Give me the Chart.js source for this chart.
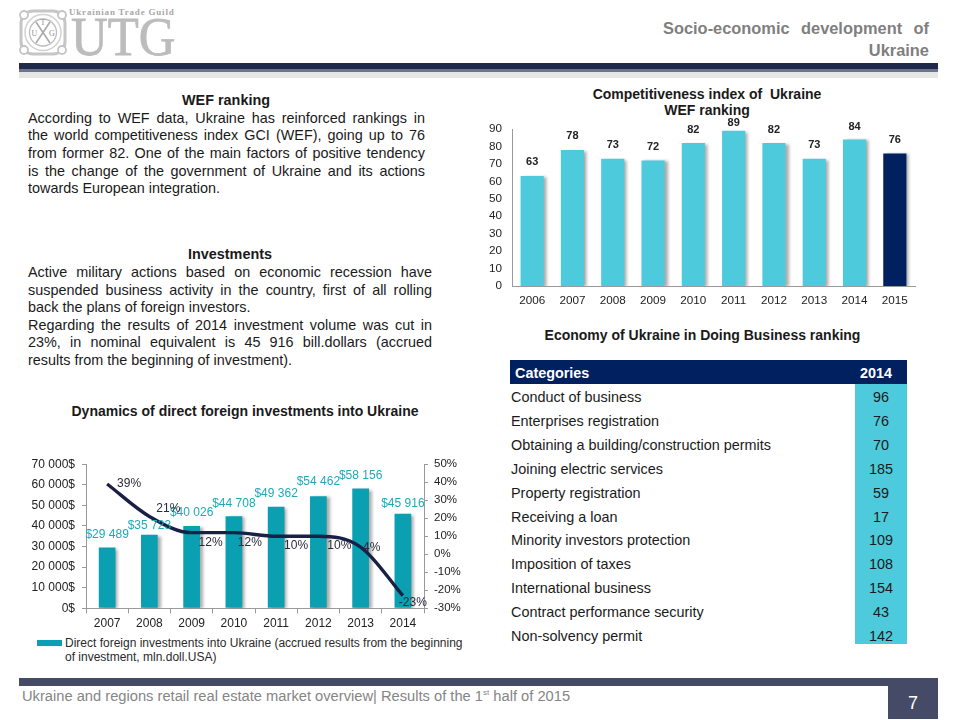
<!DOCTYPE html>
<html><head><meta charset="utf-8">
<style>
html,body{margin:0;padding:0;background:#fff;}
#page{position:relative;width:960px;height:720px;overflow:hidden;font-family:"Liberation Sans",Arial,sans-serif;color:#1a1a1a;}
.abs{position:absolute;}
.just{position:absolute;white-space:nowrap;text-align:justify;text-align-last:justify;font-size:14.4px;line-height:18px;height:18px;}
.ctr{position:absolute;text-align:center;font-weight:bold;white-space:nowrap;line-height:16px;height:16px;color:#1a1a1a;}
canvas{position:absolute;}
#tbl .r{position:absolute;left:0;font-size:14.4px;line-height:18px;white-space:nowrap;}
</style>
<script src="https://cdn.jsdelivr.net/npm/chart.js@4"></script>
</head><body>
<div id="page">
  <svg class="abs" style="left:18px;top:8px" width="52" height="50" viewBox="0 0 52 50">
    <rect x="3" y="3" width="44" height="43" rx="12" fill="none" stroke="#c6c6c6" stroke-width="3"/>
    <circle cx="6" cy="7" r="4" fill="#fff" stroke="#c4c4c4" stroke-width="1.8"/>
    <circle cx="44" cy="7" r="4" fill="#fff" stroke="#c4c4c4" stroke-width="1.8"/>
    <circle cx="6" cy="42" r="4" fill="#fff" stroke="#c4c4c4" stroke-width="1.8"/>
    <circle cx="44" cy="42" r="4" fill="#fff" stroke="#c4c4c4" stroke-width="1.8"/>
    <circle cx="25" cy="24.5" r="18" fill="none" stroke="#d2d2d2" stroke-width="1.5"/>
    <circle cx="25" cy="24.5" r="13.5" fill="none" stroke="#bdbdbd" stroke-width="1.3"/>
    <path d="M18 14 L32 35 M32 14 L18 35" stroke="#aaa" stroke-width="1.6"/>
    <text x="25" y="17" font-family="Liberation Serif" font-size="8" fill="#8f8f8f" text-anchor="middle">T</text>
    <text x="16.5" y="28" font-family="Liberation Serif" font-size="8" fill="#8f8f8f" text-anchor="middle">U</text>
    <text x="34" y="28" font-family="Liberation Serif" font-size="8" fill="#8f8f8f" text-anchor="middle">G</text>
  </svg>
  <div class="abs" style="left:69px;top:7px;font:bold 9px 'Liberation Serif',serif;color:#a8a8a8;letter-spacing:.8px;white-space:nowrap">Ukrainian Trade Guild</div>
  <div class="abs" style="left:71px;top:10px;font:54px/54px 'Liberation Serif',serif;color:#bcbcbc;-webkit-text-stroke:.8px #bcbcbc;white-space:nowrap;transform-origin:0 0;transform:scaleX(.94)">UTG</div>

  <div class="abs" style="left:663px;top:19px;width:266px;font:bold 16.4px/18px 'Liberation Sans',sans-serif;color:#7f7f7f;text-align:justify;text-align-last:justify;white-space:nowrap">Socio-economic development of</div>
  <div class="abs" style="left:663px;top:41px;width:266px;font:bold 16.4px/18px 'Liberation Sans',sans-serif;color:#7f7f7f;text-align:right;">Ukraine</div>

  <div class="abs" style="left:19px;top:63px;width:919px;height:6px;background:#1f2a4a"></div>
  <div class="abs" style="left:19px;top:69px;width:919px;height:3px;background:#6b7590"></div>
  <div class="abs" style="left:19px;top:72px;width:919px;height:6px;background:#e6e7e4"></div>

  <div class="ctr" style="left:126px;width:200px;top:92px;font-size:14.4px">WEF ranking</div>
  <div id="wef"></div>

  <div class="ctr" style="left:130px;width:200px;top:246px;font-size:14.4px">Investments</div>
  <div id="inv"></div>

  <div class="ctr" style="left:45px;width:400px;top:403px;font-size:14px">Dynamics of direct foreign investments into Ukraine</div>

  <div class="ctr" style="left:507px;width:400px;top:86px;font-size:14px">Competitiveness index of&nbsp; Ukraine</div>
  <div class="ctr" style="left:507px;width:400px;top:102px;font-size:14px">WEF ranking</div>
  <div class="ctr" style="left:502.5px;width:400px;top:327px;font-size:14px">Economy of Ukraine in Doing Business ranking</div>

  <canvas id="c1" class="abs" style="left:480px;top:112px;"></canvas>
  <canvas id="c2" class="abs" style="left:20px;top:450px;"></canvas>

  <div class="abs" style="left:37px;top:640px;width:25px;height:6px;background:#0aa0b2"></div>
  <div class="abs" style="left:65px;top:636px;font-size:12px;line-height:14px;color:#2a2a2a;white-space:nowrap">Direct foreign investments into Ukraine (accrued results from the beginning<br>of investment, mln.doll.USA)</div>

  <div id="tbl" class="abs" style="left:510px;top:360px;width:397px;height:284px">
    <div class="abs" style="left:0;top:0;width:397px;height:24px;background:#002060"></div>
    <div class="abs" style="left:345px;top:24px;width:52px;height:260px;background:#4dcbdc"></div>
    <div class="abs" style="left:5px;top:4px;font-size:14.4px;line-height:18px;font-weight:bold;color:#fff">Categories</div>
    <div class="abs" style="left:345px;width:42px;text-align:center;top:4px;font-size:14.4px;line-height:18px;font-weight:bold;color:#fff">2014</div>
  </div>

  <div class="abs" style="left:19px;top:678px;width:919px;height:8px;background:#454a66"></div>
  <div class="abs" style="left:888px;top:686px;width:50px;height:33px;background:#454a66;color:#fff;text-align:center;font-size:18px;line-height:34px">7</div>
  <div class="abs" style="left:22px;top:688px;font-size:14.7px;line-height:16px;color:#858585;white-space:nowrap">Ukraine and regions retail real estate market overview| Results of the 1<sup style="font-size:8px;line-height:0">st</sup> half of 2015</div>
</div>
<script>
// ---- Data ----
const wefYears = ['2006','2007','2008','2009','2010','2011','2012','2013','2014','2015'];
const wefValues = [63,78,73,72,82,89,82,73,84,76];
const fdiYears = ['2007','2008','2009','2010','2011','2012','2013','2014'];
const fdiValues = [29489,35723,40026,44708,49362,54462,58156,45916];
const fdiGrowth = [39,21,12,12,10,10,4,-23];
const doingCategories = ['Conduct of business','Enterprises registration','Obtaining a building/construction permits','Joining electric services','Property registration','Receiving a loan','Minority investors protection','Imposition of taxes','International business','Contract performance security','Non-solvency permit'];
const doingRanks = [96,76,70,185,59,17,109,108,154,43,142];
const wefLines = ['According to WEF data, Ukraine has reinforced rankings in','the world competitiveness index GCI (WEF), going up to 76','from former 82. One of the main factors of positive tendency','is the change of the government of Ukraine  and its actions','towards European integration.'];
const invLines = ['Active military actions based on economic recession have','suspended business activity in the country, first of all rolling','back the plans of foreign investors.','Regarding the results of 2014 investment volume was cut in','23%, in nominal equivalent is 45 916 bill.dollars (accrued','results  from the beginning of investment).'];

// ---- Text blocks ----
function block(id, lines, left, width, top, lh, lastIdx){
  const host=document.getElementById(id);
  lines.forEach((t,i)=>{
    const d=document.createElement('div');d.className='just';d.textContent=t;
    d.style.left=left+'px';d.style.top=(top+i*lh)+'px';
    if(lastIdx.includes(i)){d.style.textAlignLast='left';}
    d.style.width=width+'px';
    host.appendChild(d);
  });
}
block('wef',wefLines,28,397,108.5,17.7,[4]);
block('inv',invLines,28,404,263,17.6,[2,5]);

// ---- Table ----
const tbl=document.getElementById('tbl');
doingCategories.forEach((c,i)=>{
  const y=24+i*23.9+4;
  const a=document.createElement('div');a.className='r';a.textContent=c;a.style.left='1px';a.style.top=y+'px';tbl.appendChild(a);
  const b=document.createElement('div');b.className='r';b.textContent=doingRanks[i];b.style.left='345px';b.style.width='52px';b.style.textAlign='center';b.style.top=y+'px';tbl.appendChild(b);
});

// ---- Plugins ----
const shadowPlugin={id:'barShadow',
  beforeDatasetDraw(ch,a){ if(ch.data.datasets[a.index].type==='line')return;
    const c=ch.ctx;c.save();c.shadowColor='rgba(0,0,0,.33)';c.shadowBlur=3;c.shadowOffsetX=3;c.shadowOffsetY=1;},
  afterDatasetDraw(ch,a){ if(ch.data.datasets[a.index].type==='line')return; ch.ctx.restore();}
};
const labelPlugin={id:'pointLabels',
  afterDatasetsDraw(ch,args,opts){
    const c=ch.ctx;
    opts.sets.forEach(s=>{
      const meta=ch.getDatasetMeta(s.index);
      c.save();c.font=s.font;c.fillStyle=s.color;c.textAlign='center';c.textBaseline='middle';
      meta.data.forEach((el,i)=>{
        const off=s.offsets[i];
        c.fillText(s.format(ch.data.datasets[s.index].data[i]),el.x+off[0],el.y+off[1]);
      });
      c.restore();
    });
  }
};
Chart.defaults.font.family='"Liberation Sans",Arial,sans-serif';
Chart.defaults.animation=false;
Chart.defaults.responsive=false;
Chart.defaults.devicePixelRatio=1;

// ---- Chart 1 ----
const c1=document.getElementById('c1');c1.width=450;c1.height=201;
new Chart(c1,{type:'bar',plugins:[shadowPlugin,labelPlugin],
  data:{labels:wefYears,datasets:[{data:wefValues,
    backgroundColor:wefValues.map((v,i)=>i===wefValues.length-1?'#002060':'#4dcbdc'),
    categoryPercentage:1,barPercentage:.575}]},
  options:{layout:{padding:{left:0,right:15,top:14,bottom:0}},
    plugins:{legend:{display:false},tooltip:{enabled:false},
      pointLabels:{sets:[{index:0,font:'bold 11px "Liberation Sans"',color:'#222',
        format:v=>String(v),
        offsets:[[0,-14],[0,-13.5],[0,-13.5],[0,-13],[0,-13],[0,-8],[0,-13],[0,-13.5],[0,-13],[0,-13]]}]}},
    scales:{
      x:{afterFit(s){s.height=27},grid:{display:false,drawTicks:false},border:{color:'#9a9a9a'},ticks:{color:'#222',font:{size:11.7},padding:8,maxRotation:0,autoSkip:false}},
      y:{min:0,max:90,afterFit(s){s.width=32},grid:{display:false,drawTicks:false},border:{color:'#9a9a9a'},ticks:{stepSize:10,color:'#222',font:{size:11.7},padding:10}}
    }}});

// ---- Chart 2 ----
const c2=document.getElementById('c2');c2.width=450;c2.height=185;
new Chart(c2,{type:'bar',plugins:[shadowPlugin,labelPlugin],
  data:{labels:fdiYears,datasets:[
    {type:'line',data:fdiGrowth,yAxisID:'y1',borderColor:'#1a1f45',borderWidth:3.4,pointRadius:0,tension:.4,cubicInterpolationMode:'monotone',order:0,clip:false},
    {type:'bar',data:fdiValues,yAxisID:'y',backgroundColor:'#0aa0b2',categoryPercentage:1,barPercentage:.395,order:1}]},
  options:{layout:{padding:{left:0,right:0,top:14,bottom:0}},
    plugins:{legend:{display:false},tooltip:{enabled:false},
      pointLabels:{sets:[
        {index:1,font:'12px "Liberation Sans"',color:'#1fa9b8',
          format:v=>'$'+String(v).replace(/(\d+)(\d{3})$/,'$1 $2'),
          offsets:[[0,-13],[0,-9],[0,-13],[0,-13],[0,-13],[0,-14],[0,-13],[0,-10]]},
        {index:0,font:'12px "Liberation Sans"',color:'#2a2a3a',
          format:v=>v+'%',
          offsets:[[22,0],[19,-8],[19,10],[16,10],[20,9],[21,9],[11,1],[10,7]]}
      ]}},
    scales:{
      x:{afterFit(s){s.height=26.7},grid:{display:true,drawOnChartArea:false,drawTicks:true,tickLength:5,color:'#9a9a9a',offset:true},border:{color:'#9a9a9a'},ticks:{color:'#222',font:{size:12},padding:3.5,maxRotation:0,autoSkip:false}},
      y:{min:0,max:70000,position:'left',afterFit(s){s.width=66},grid:{drawOnChartArea:false,tickLength:4,color:'#9a9a9a'},border:{color:'#9a9a9a'},
        ticks:{stepSize:10000,color:'#222',font:{size:12},padding:7,callback:v=>(v===0?'0':String(v).replace(/(\d+)(\d{3})$/,'$1 $2'))+'$'}},
      y1:{min:-30,max:50,position:'right',afterFit(s){s.width=46},grid:{drawOnChartArea:false,tickLength:4,color:'#9a9a9a'},border:{color:'#9a9a9a'},
        ticks:{stepSize:10,color:'#222',font:{size:11.5},padding:6,callback:v=>v+'%'}}
    }}});
</script>
</body></html>
